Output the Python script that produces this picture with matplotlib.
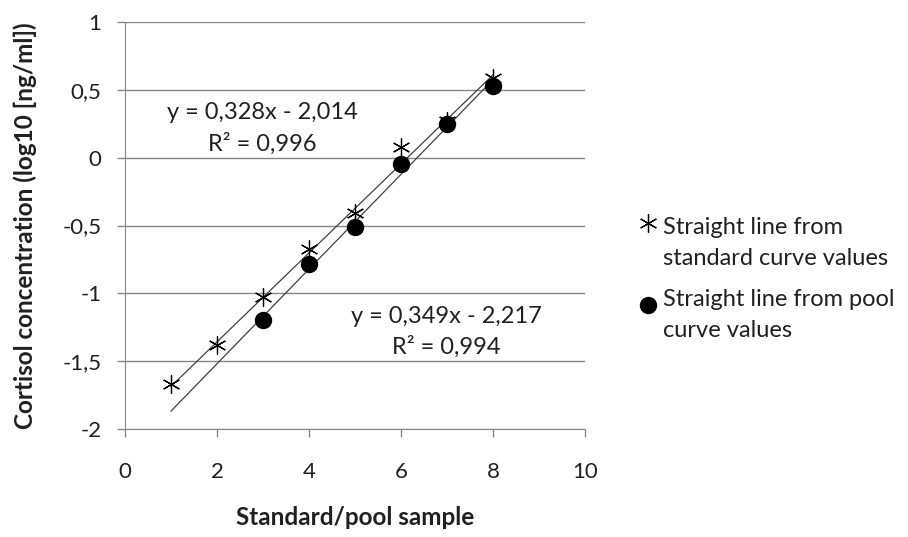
import matplotlib
matplotlib.use("Agg")
import matplotlib.pyplot as plt
from matplotlib.lines import Line2D
import numpy as np

plt.rcParams["font.family"] = ["Lato", "DejaVu Sans"]

# standard curve values (asterisks)
std_x = [1, 2, 3, 4, 5, 6, 7, 8]
std_y = [-1.67, -1.38, -1.03, -0.67, -0.41, 0.08, 0.27, 0.59]

# pool curve values (filled circles)
pool_x = [3, 4, 5, 6, 7, 8]
pool_y = [-1.20, -0.785, -0.51, -0.047, 0.245, 0.53]

# trendline coefficients (slope, intercept) as printed on the chart
std_fit = (0.328, -2.014)
pool_fit = (0.349, -2.217)
fit_range = [1, 8]

xticks = [0, 2, 4, 6, 8, 10]
yticks = [-2, -1.5, -1, -0.5, 0, 0.5, 1]

legend_labels = ["Straight line from\nstandard curve values",
                 "Straight line from pool\ncurve values"]

TXT = "#202020"
STD_MARKER = dict(linestyle="none", marker=(6, 2, 0), markersize=13,
                  markeredgecolor="black", markeredgewidth=0.9)
POOL_MARKER = dict(linestyle="none", marker="o", markersize=11.5, color="black")


def comma(v):
    return f"{v:g}".replace(".", ",")


fig = plt.figure(figsize=(9.08, 5.37), dpi=100)
ax = fig.add_axes([125 / 908, 1 - 429 / 537, 460 / 908, 407 / 537])

# trendlines
xf = np.array(fit_range)
ax.plot(xf, std_fit[0] * xf + std_fit[1], color="#404040", lw=0.9, zorder=2)
ax.plot(xf, pool_fit[0] * xf + pool_fit[1], color="#404040", lw=0.9, zorder=2)

ax.plot(std_x, std_y, zorder=3, **STD_MARKER)
ax.plot(pool_x, pool_y, zorder=4, **POOL_MARKER)

ax.set_xlim(0, 10)
ax.set_ylim(-2, 1)
ax.set_xticks(xticks)
ax.set_yticks(yticks)
ax.set_xticklabels([comma(v) for v in xticks], fontsize=16, color=TXT)
ax.set_yticklabels([comma(v) for v in yticks], fontsize=16, color=TXT)
ax.tick_params(axis="both", direction="out", length=6, color="#868686", width=1)
ax.tick_params(axis="x", pad=18)
ax.tick_params(axis="y", pad=11)

ax.yaxis.grid(True, color="#868686", lw=1)
ax.set_axisbelow(True)
for side in ["top", "right"]:
    ax.spines[side].set_visible(False)
ax.spines["left"].set_color("#868686")
ax.spines["bottom"].set_color("#868686")

ax.text(2.98, 0.215, "y = 0,328x - 2,014\nR² = 0,996", ha="center", va="center",
        fontsize=17, linespacing=1.5, color=TXT)
ax.text(6.99, -1.285, "y = 0,349x - 2,217\nR² = 0,994", ha="center", va="center",
        fontsize=17, linespacing=1.5, color=TXT)

ax.set_xlabel("Standard/pool sample", fontsize=17.5, fontweight="bold", color=TXT)
ax.set_ylabel("Cortisol concentration (log10 [ng/ml])", fontsize=17.5,
              fontweight="bold", color=TXT)
ax.xaxis.set_label_coords(0.5, -0.19)
ax.yaxis.set_label_coords(-0.191, 0.5)

# legend drawn by hand: marker aligned with the first text line
W, H = 908, 537
for lab, style, ty, my in [(legend_labels[0], STD_MARKER, 225, 223),
                           (legend_labels[1], POOL_MARKER, 297, 305)]:
    fig.add_artist(Line2D([648 / W], [1 - my / H], transform=fig.transFigure, **style))
    fig.text(663 / W, 1 - (ty - 8) / H, lab, ha="left", va="top",
             fontsize=17, linespacing=1.6, color=TXT)

fig.savefig("out.png", dpi=100, facecolor="white")
plt.close(fig)
